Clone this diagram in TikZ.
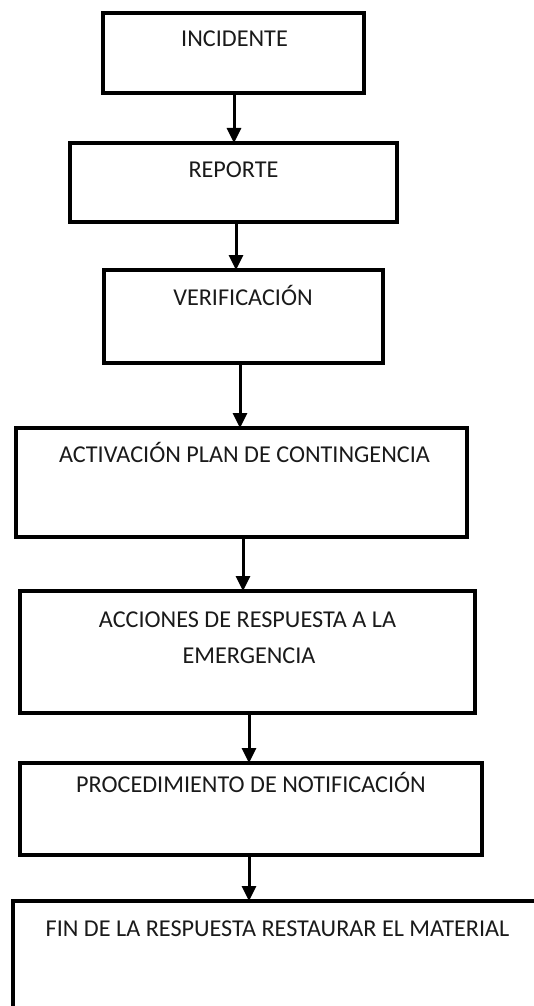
\documentclass[tikz,border=0pt]{standalone}
\usepackage{fontspec}
\setmainfont{Carlito}
\usetikzlibrary{arrows.meta}
\definecolor{txt}{HTML}{1A1A1A}
\tikzset{
  box/.style={draw=black, line width=4.5pt, rectangle, outer sep=0pt, inner sep=0pt, anchor=north west},
  lbl/.style={anchor=base, inner sep=0pt, text=txt, font=\fontsize{24.2}{29}\selectfont},
  arr/.style={line width=3pt, -{Triangle[length=15pt,width=14pt]}}
}
\begin{document}
\begin{tikzpicture}[x=1pt,y=-1pt]
\clip (0,0) rectangle (534,1006);
\useasboundingbox (0,0) rectangle (534,1006);
\node[box, minimum width=261pt, minimum height=80pt] (b1) at (103,13) {};
\node[box, minimum width=327pt, minimum height=79pt] (b2) at (70,143) {};
\node[box, minimum width=279pt, minimum height=93pt] (b3) at (104,270) {};
\node[box, minimum width=451pt, minimum height=109pt] (b4) at (16,428) {};
\node[box, minimum width=455pt, minimum height=122pt] (b5) at (20,591) {};
\node[box, minimum width=462pt, minimum height=92pt] (b6) at (20,763) {};
\node[box, minimum width=560pt, minimum height=140pt] (b7) at (13,901) {};

\node[lbl] (t1) at (234.5,47) {INCIDENTE};
\node[lbl] (t2) at (233.5,177) {REPORTE};
\node[lbl] (t3) at (243,305) {VERIFICACIÓN};
\node[lbl] (t4) at (244.5,462) {ACTIVACIÓN PLAN DE CONTINGENCIA};
\node[lbl] (t5a) at (247.5,627) {ACCIONES DE RESPUESTA A LA};
\node[lbl] (t5b) at (249,663) {EMERGENCIA};
\node[lbl] (t6) at (251,792) {PROCEDIMIENTO DE NOTIFICACIÓN};
\node[lbl] (t7) at (277.5,936) {FIN DE LA RESPUESTA RESTAURAR EL MATERIAL};

\draw[arr] ([xshift=0.5pt]b1.south) -- ([xshift=0.5pt]b1.south |- b2.north);
\draw[arr] ([xshift=2.5pt]b2.south) -- ([xshift=2.5pt]b2.south |- b3.north);
\draw[arr] ([xshift=-3.5pt]b3.south) -- ([xshift=-3.5pt]b3.south |- b4.north);
\draw[arr] ([xshift=1.5pt]b4.south) -- ([xshift=1.5pt]b4.south |- b5.north);
\draw[arr] ([xshift=1.5pt]b5.south) -- ([xshift=1.5pt]b5.south |- b6.north);
\draw[arr] ([xshift=-2pt]b6.south) -- ([xshift=-2pt]b6.south |- b7.north);
\end{tikzpicture}
\end{document}
